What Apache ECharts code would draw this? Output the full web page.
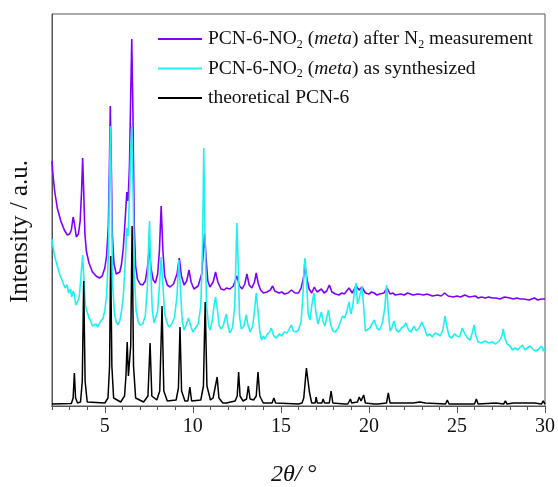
<!DOCTYPE html>
<html><head><meta charset="utf-8">
<script src="https://cdn.jsdelivr.net/npm/echarts@6/dist/echarts.min.js"></script>
<style>html,body{margin:0;padding:0;background:#fff}#c{width:558px;height:487px}</style>
</head><body><div id="c"></div>
<script>
const seriesNames = ['after N2', 'as synthesized', 'theoretical'];
const xTickLabels = [5, 10, 15, 20, 25, 30];

const afterN2 = [[2.0,245],[2.05,232],[2.15,215],[2.3,198],[2.5,185],[2.7,176],[2.87,171],[3.0,172],[3.1,176],[3.2,189],[3.27,183],[3.38,169],[3.5,172],[3.6,185],[3.68,215],[3.74,248],[3.8,215],[3.87,172],[3.95,155],[4.1,143],[4.3,134],[4.5,130],[4.7,128],[4.85,130],[5.0,138],[5.1,150],[5.2,180],[5.27,250],[5.31,300],[5.36,250],[5.43,170],[5.52,142],[5.65,132],[5.75,130],[5.85,134],[5.95,142],[6.05,158],[6.15,185],[6.25,214],[6.32,205],[6.4,240],[6.47,310],[6.53,367],[6.6,290],[6.67,180],[6.75,140],[6.85,127],[7.0,122],[7.15,121],[7.3,125],[7.42,138],[7.53,159],[7.62,138],[7.75,126],[7.87,123],[8.0,132],[8.1,155],[8.2,200],[8.3,155],[8.4,130],[8.55,121],[8.7,119],[8.9,122],[9.1,132],[9.23,148],[9.35,130],[9.5,121],[9.65,125],[9.78,136],[9.9,124],[10.06,117],[10.3,120],[10.5,132],[10.6,155],[10.67,172],[10.75,148],[10.85,125],[10.97,119],[11.15,124],[11.29,134],[11.42,124],[11.6,117],[11.78,116],[11.9,118],[12.1,117],[12.3,120],[12.5,130],[12.65,120],[12.8,117],[12.95,122],[13.07,132],[13.2,121],[13.35,118],[13.5,124],[13.6,133],[13.72,122],[13.85,116],[14.0,113],[14.2,114],[14.4,116],[14.53,120],[14.65,115],[14.9,113],[15.05,114],[15.2,112],[15.4,113],[15.6,116],[15.8,113],[16.0,113],[16.15,118],[16.28,128],[16.37,141],[16.47,128],[16.6,117],[16.75,113],[16.9,119],[17.05,114],[17.3,117],[17.45,113],[17.6,115],[17.75,121],[17.9,114],[18.1,112],[18.3,111],[18.45,113],[18.6,112],[18.87,118],[19.05,113],[19.27,120],[19.45,116],[19.6,119],[19.8,113],[20.0,112],[20.15,114],[20.3,113],[20.45,111],[20.6,112],[20.85,113],[21.03,118],[21.2,112],[21.35,113],[21.5,111],[21.8,112],[22.0,111],[22.2,113],[22.5,111],[22.8,112],[23.1,111],[23.3,112],[23.6,110],[23.9,111],[24.1,110],[24.3,113],[24.5,110],[24.8,109],[25.0,110],[25.2,109],[25.45,111],[25.7,109],[26.05,110],[26.2,108],[26.4,109],[26.6,108],[26.8,109],[27.0,108],[27.2,108],[27.45,107],[27.7,109],[28.0,108],[28.2,107],[28.4,108],[28.6,107],[28.8,107],[29.1,106],[29.4,108],[29.6,106],[29.8,107],[30.0,107]];

const asSynthesized = [[2.0,167],[2.05,160],[2.15,150],[2.3,140],[2.45,131],[2.55,127],[2.65,122],[2.75,118],[2.85,121],[2.95,113],[3.05,117],[3.12,109],[3.2,115],[3.27,112],[3.35,101],[3.45,104],[3.55,110],[3.65,130],[3.74,151],[3.82,125],[3.9,100],[4.0,94],[4.1,88],[4.2,85],[4.3,80],[4.4,78],[4.5,82],[4.6,79],[4.7,83],[4.8,82],[4.9,88],[5.0,96],[5.1,110],[5.2,150],[5.27,230],[5.32,280],[5.38,200],[5.45,120],[5.55,92],[5.65,84],[5.75,81],[5.85,85],[5.95,95],[6.05,110],[6.15,140],[6.25,178],[6.32,170],[6.4,210],[6.48,260],[6.53,280],[6.6,220],[6.68,130],[6.78,95],[6.9,84],[7.0,81],[7.15,82],[7.3,90],[7.42,120],[7.5,170],[7.54,185],[7.6,140],[7.7,95],[7.8,83],[7.9,82],[8.0,95],[8.1,120],[8.2,149],[8.3,120],[8.4,92],[8.55,82],[8.65,79],[8.8,82],[8.95,88],[9.1,110],[9.2,146],[9.3,115],[9.4,85],[9.5,76],[9.6,80],[9.75,88],[9.88,80],[10.0,74],[10.15,78],[10.3,82],[10.45,100],[10.55,160],[10.62,258],[10.68,180],[10.78,100],[10.9,80],[10.98,76],[11.1,85],[11.2,100],[11.29,109],[11.38,98],[11.5,80],[11.62,77],[11.75,82],[11.9,92],[12.0,80],[12.1,73],[12.25,78],[12.38,100],[12.45,150],[12.5,183],[12.56,150],[12.65,90],[12.75,77],[12.9,80],[13.03,91],[13.12,82],[13.25,74],[13.4,80],[13.5,95],[13.6,113],[13.7,95],[13.8,75],[13.9,66],[14.0,70],[14.1,67],[14.2,71],[14.35,74],[14.45,78],[14.6,70],[14.75,68],[14.9,72],[15.05,70],[15.2,74],[15.35,73],[15.5,78],[15.6,81],[15.7,75],[15.85,74],[16.0,76],[16.15,85],[16.25,110],[16.32,140],[16.37,148],[16.45,128],[16.55,92],[16.65,86],[16.75,100],[16.88,113],[16.98,95],[17.1,82],[17.2,88],[17.3,94],[17.4,84],[17.5,80],[17.6,88],[17.7,96],[17.82,82],[17.95,75],[18.1,74],[18.25,78],[18.4,85],[18.5,90],[18.62,88],[18.75,95],[18.87,104],[18.97,92],[19.08,100],[19.18,115],[19.27,123],[19.35,102],[19.45,108],[19.6,119],[19.7,100],[19.8,75],[19.9,73],[20.05,78],[20.15,80],[20.3,86],[20.45,78],[20.6,76],[20.75,82],[20.9,98],[21.0,121],[21.1,95],[21.2,75],[21.3,78],[21.42,85],[21.55,76],[21.7,74],[21.85,78],[22.0,80],[22.1,83],[22.25,76],[22.4,74],[22.55,80],[22.7,75],[22.85,78],[23.0,84],[23.15,78],[23.3,70],[23.45,72],[23.6,69],[23.75,73],[23.9,72],[24.05,70],[24.2,76],[24.32,90],[24.42,80],[24.55,70],[24.7,68],[24.85,72],[25.0,70],[25.15,69],[25.3,78],[25.45,72],[25.6,68],[25.75,66],[25.88,74],[25.97,81],[26.08,70],[26.2,64],[26.4,63],[26.6,65],[26.8,63],[27.0,64],[27.2,62],[27.4,65],[27.55,70],[27.63,77],[27.72,68],[27.85,62],[28.0,60],[28.15,56],[28.3,58],[28.45,56],[28.6,59],[28.72,61],[28.85,56],[29.0,58],[29.15,60],[29.25,62],[29.35,56],[29.5,55],[29.65,57],[29.8,60],[29.9,55],[30.0,58]];

const theoretical = [[2.0,2],[3.1,2.5],[3.2,8],[3.27,33],[3.34,8],[3.45,3],[3.62,4],[3.72,25],[3.8,125],[3.88,25],[4.0,4],[5.0,3],[5.18,8],[5.27,40],[5.33,150],[5.4,40],[5.5,8],[5.9,4],[6.12,10],[6.2,30],[6.27,64],[6.34,30],[6.4,30],[6.47,60],[6.55,180],[6.63,40],[6.75,8],[7.2,4],[7.45,10],[7.57,63],[7.67,10],[7.95,6],[8.12,15],[8.25,100],[8.35,15],[8.55,5],[9.05,6],[9.18,18],[9.27,79],[9.36,15],[9.55,5],[9.72,5],[9.83,19],[9.93,5],[10.45,6],[10.6,20],[10.7,104],[10.8,20],[11.0,6],[11.15,8],[11.2,10],[11.26,8],[11.38,29],[11.48,8],[11.7,3],[11.9,3],[11.95,4],[12.0,3],[12.4,5],[12.52,10],[12.6,34],[12.68,10],[12.85,5],[13.05,7],[13.15,20],[13.25,7],[13.45,6],[13.6,10],[13.7,34],[13.8,10],[14.0,3],[14.5,3],[14.6,8],[14.7,3],[16.0,2],[16.2,3],[16.3,8],[16.45,38],[16.55,24],[16.62,14],[16.75,3],[16.95,3],[17.0,9],[17.07,3],[17.33,3],[17.4,7],[17.48,3],[17.75,3],[17.85,15],[17.95,3],[18.6,2],[18.7,4],[18.8,2],[18.9,3],[18.95,7],[19.02,3],[19.35,4],[19.45,9],[19.55,5],[19.7,11],[19.8,3],[20.3,2],[20.4,3],[20.5,2],[21.0,3],[21.1,13],[21.2,3],[21.6,3],[22.2,3],[22.5,3],[22.9,4],[23.2,3],[24.35,2],[24.45,6],[24.55,2],[25.4,2],[25.5,4],[25.6,2],[26.0,2],[26.1,7],[26.2,2],[27.2,3],[27.65,2],[27.75,5],[27.85,2],[28.2,3],[28.8,3],[29.4,3],[29.8,2],[29.9,5],[30.0,2]];

const FONT = '"Liberation Serif", "Times New Roman", serif';
const legendText = {
  'after N2': 'PCN-6-NO{sub|2} ({it|meta}) after N{sub|2} measurement',
  'as synthesized': 'PCN-6-NO{sub|2} ({it|meta}) as synthesized',
  'theoretical': 'theoretical PCN-6'
};
const axisColor = '#555';
const chart = echarts.init(document.getElementById('c'), null, {renderer: 'canvas'});
chart.setOption({
  animation: false,
  backgroundColor: '#fff',
  grid: {left: 52, right: 13, top: 14, bottom: 81, show: true, borderColor: axisColor, borderWidth: 1},
  legend: {
    orient: 'vertical', left: 158, top: 29, padding: 0, itemWidth: 44, itemHeight: 2, itemGap: 8,
    icon: 'rect',
    data: seriesNames,
    formatter: n => legendText[n],
    textStyle: {fontFamily: FONT, fontSize: 19.5, color: '#111', padding: [0, 0, 0, 1],
      rich: {sub: {fontFamily: FONT, fontSize: 12, color: '#111', padding: [11, 0, 0, 0]},
             it: {fontFamily: FONT, fontSize: 19.5, fontStyle: 'italic', color: '#111'}}}
  },
  xAxis: [{
    type: 'value', min: 2, max: 30, interval: 1,
    axisLine: {lineStyle: {color: axisColor, width: 1}},
    axisTick: {show: true, inside: false, length: 4, lineStyle: {color: axisColor}},
    axisLabel: {customValues: xTickLabels, fontFamily: FONT, fontSize: 20, color: '#111', margin: 11},
    splitLine: {show: false}
  }, {
    type: 'value', min: 2, max: 30, interval: 1, position: 'bottom', offset: 0, gridIndex: 0,
    axisLine: {show: true, lineStyle: {color: axisColor, width: 1}},
    axisTick: {show: true, inside: false, length: 7, customValues: xTickLabels, lineStyle: {color: axisColor}},
    axisLabel: {show: false}, splitLine: {show: false}
  }],
  yAxis: {
    type: 'value', min: 0, max: 392,
    axisLine: {show: true, lineStyle: {color: axisColor}},
    axisTick: {show: false}, axisLabel: {show: false}, splitLine: {show: false}
  },
  graphic: [
    {type: 'text', x: 8, y: 303, rotation: Math.PI / 2, style: {text: 'Intensity / a.u.', font: '25px ' + FONT, fill: '#111'}},
    {type: 'text', left: 271, top: 463, style: {rich: {n: {font: '24px ' + FONT, fill: '#111'}, t: {font: 'italic 24px ' + FONT, fill: '#111'}}, text: '{t|2θ/}{n| °}'}}
  ],
  series: [
    {name: 'after N2', type: 'line', data: afterN2, symbol: 'none', lineStyle: {color: '#7f00ff', width: 1.6}, itemStyle: {color: '#7f00ff'}},
    {name: 'as synthesized', type: 'line', data: asSynthesized, symbol: 'none', lineStyle: {color: '#1ff0f0', width: 1.6}, itemStyle: {color: '#1ff0f0'}},
    {name: 'theoretical', type: 'line', data: theoretical, symbol: 'none', lineStyle: {color: '#000', width: 1.5}, itemStyle: {color: '#000'}}
  ]
});
</script></body></html>
